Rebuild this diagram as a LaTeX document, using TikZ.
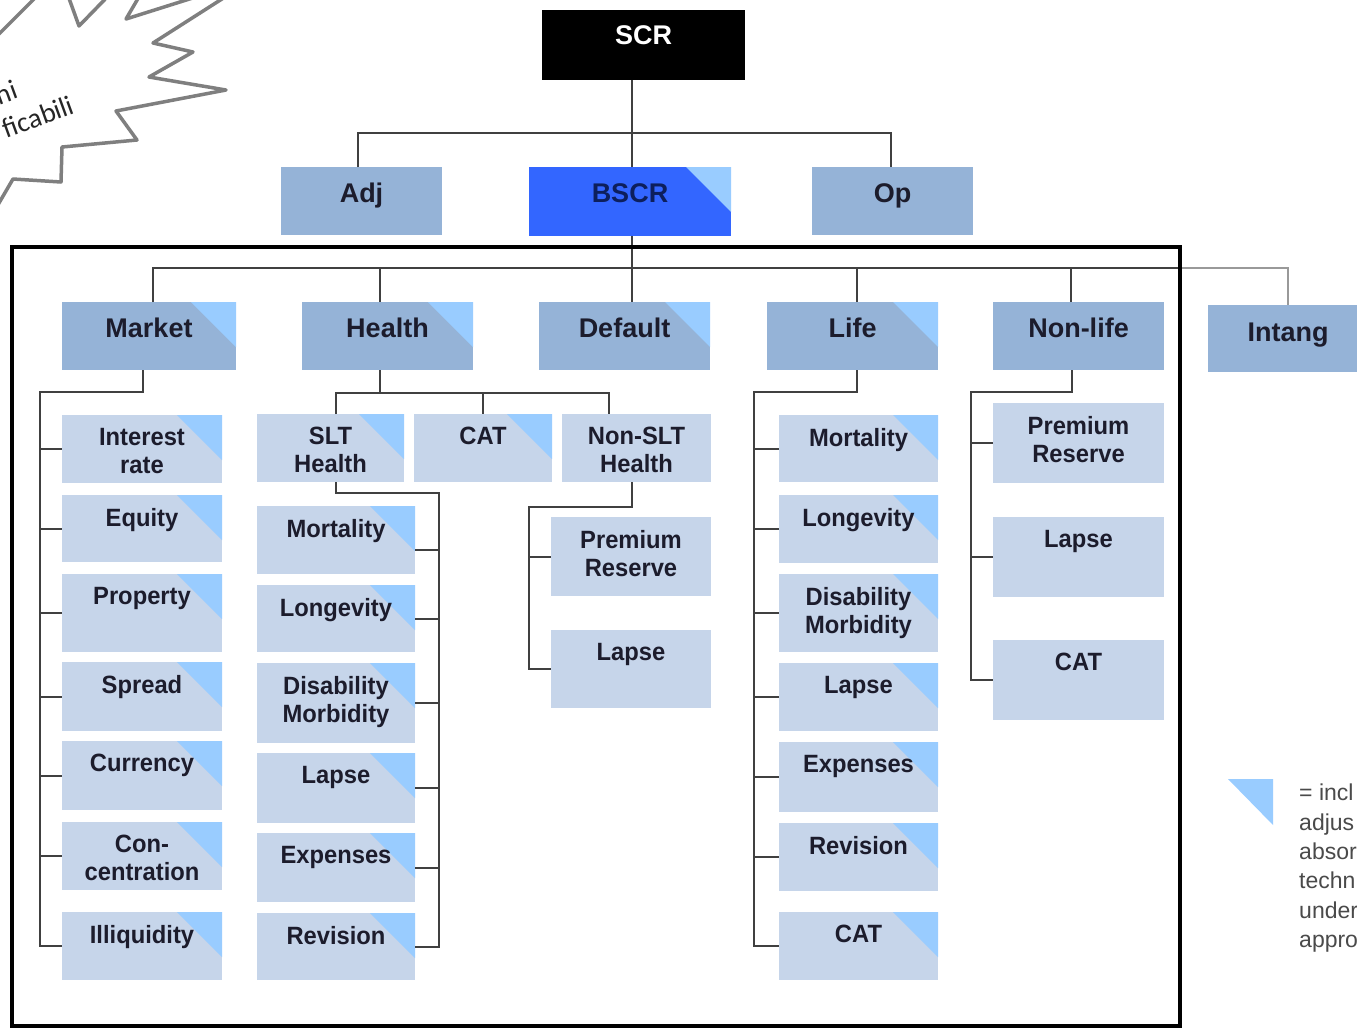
\documentclass[tikz,border=0pt]{standalone}
\usepackage{fontspec}
\setmainfont{Liberation Sans}
\newfontfamily\narrowfont[FakeStretch=0.95]{Liberation Sans}
\newfontfamily\burstfont{Carlito}
\usetikzlibrary{calc}
\definecolor{midblue}{HTML}{95B3D7}
\definecolor{lightbox}{HTML}{C6D5EA}
\definecolor{tricol}{HTML}{99CCFF}
\definecolor{bscrblue}{HTML}{3366FF}
\definecolor{txtcol}{HTML}{1C1C2C}
\definecolor{navytxt}{HTML}{0D1F5C}
\definecolor{linecol}{HTML}{404040}
\definecolor{burstcol}{HTML}{7F7F7F}
\definecolor{legtxt}{HTML}{4A4A4A}
\newcommand\tbox[8]{%
  \node[#2, minimum width={(#6-#4)*1pt}, minimum height={(#7-#5)*1pt}] (#1) at (#4,#5) {};
  \node[#3] (#1-t) at (#1.north) {#8};}
\begin{document}
\begin{tikzpicture}[x=1pt,y=-1pt,
  box/.style={anchor=north west, inner sep=0pt, outer sep=0pt, draw=none},
  midb/.style={box, fill=midblue},
  leafb/.style={box, fill=lightbox},
  tri/.style={path picture={\fill[tricol] ([xshift=-45pt]path picture bounding box.north east) -- (path picture bounding box.north east) -- ([yshift=-45pt]path picture bounding box.north east) -- cycle;}},
  bigtxt/.style={anchor=north, inner sep=0pt, align=center, font=\bfseries\fontsize{27}{30}\selectfont, text=txtcol, yshift=-16pt},
  toptxt/.style={bigtxt, yshift=1pt},
  leaftxt/.style={anchor=north, inner sep=0pt, align=center, font=\narrowfont\bfseries\fontsize{25}{28}\selectfont, text=txtcol, yshift=-13pt},
  conn/.style={draw=linecol, line width=2pt},
  burstline/.style={draw=burstcol, line width=3.5pt, line join=round},
  bursttxt/.style={font=\burstfont\fontsize{28}{33.6}\selectfont, text=black!85, inner sep=0pt, rotate=20, anchor=north east, align=right}
]
\useasboundingbox (0,0) rectangle (1357,1029);
\clip (0,0) rectangle (1357,1029);
\fill[white] (0,0) rectangle (1357,1029);

% starburst (cut off at the top-left corner)
\draw[burstline, fill=white] (-20,53) -- (45,-12) -- (66,-10) -- (79,26) -- (114,-10) -- (143,-10) -- (126,19) -- (218,-10) -- (236,-10) -- (153,43) -- (193,52) -- (149,77) -- (226,90) -- (116,111) -- (137,140) -- (62,147) -- (61,182) -- (13,179) -- (-15,227) -- (-60,227) -- (-60,53) -- cycle;
\node[bursttxt] (bt) at (58,63) {ni\hspace*{48pt}\\ficabili};

% top level
\tbox{scr}{box, fill=black}{toptxt, text=white}{542}{10}{745}{80}{SCR}
\tbox{adj}{midb}{bigtxt}{281}{167}{442}{235}{Adj}
\tbox{bscr}{box, fill=bscrblue, tri}{bigtxt, text=navytxt}{529}{167}{731}{236}{BSCR}
\tbox{op}{midb}{bigtxt}{812}{167}{973}{235}{Op}

% second level
\tbox{mkt}{midb, tri}{bigtxt}{62}{302}{236}{370}{Market}
\tbox{hlt}{midb, tri}{bigtxt}{302}{302}{473}{370}{Health}
\tbox{dft}{midb, tri}{bigtxt}{539}{302}{710}{370}{Default}
\tbox{life}{midb, tri}{bigtxt}{767}{302}{938}{370}{Life}
\tbox{nlife}{midb}{bigtxt}{993}{302}{1164}{370}{Non-life}
\tbox{intang}{midb}{bigtxt, yshift=-2pt}{1208}{305}{1368}{372}{Intang}

% market modules
\tbox{ir}{leafb, tri}{leaftxt}{62}{415}{222}{483}{Interest\\rate}
\tbox{eq}{leafb, tri}{leaftxt}{62}{495}{222}{562}{Equity}
\tbox{prop}{leafb, tri}{leaftxt}{62}{574}{222}{652}{Property}
\tbox{spr}{leafb, tri}{leaftxt}{62}{662}{222}{731}{Spread}
\tbox{cur}{leafb, tri}{leaftxt}{62}{741}{222}{810}{Currency}
\tbox{con}{leafb, tri}{leaftxt}{62}{822}{222}{890}{Con-\\centration}
\tbox{ill}{leafb, tri}{leaftxt}{62}{912}{222}{980}{Illiquidity}

% health modules
\tbox{slt}{leafb, tri}{leaftxt}{257}{414}{404}{482}{SLT\\Health}
\tbox{hcat}{leafb, tri}{leaftxt}{414}{414}{552}{482}{CAT}
\tbox{nslt}{leafb}{leaftxt}{562}{414}{711}{482}{Non-SLT\\Health}
\tbox{hmort}{leafb, tri}{leaftxt}{257}{506}{415}{574}{Mortality}
\tbox{hlong}{leafb, tri}{leaftxt}{257}{585}{415}{652}{Longevity}
\tbox{hdis}{leafb, tri}{leaftxt}{257}{663}{415}{743}{Disability\\Morbidity}
\tbox{hlapse}{leafb, tri}{leaftxt}{257}{753}{415}{823}{Lapse}
\tbox{hexp}{leafb, tri}{leaftxt}{257}{833}{415}{902}{Expenses}
\tbox{hrev}{leafb, tri}{leaftxt}{257}{913}{415}{980}{Revision}
\tbox{nprem}{leafb}{leaftxt}{551}{517}{711}{596}{Premium\\Reserve}
\tbox{nlapse}{leafb}{leaftxt}{551}{630}{711}{708}{Lapse}

% life modules
\tbox{lmort}{leafb, tri}{leaftxt}{779}{415}{938}{482}{Mortality}
\tbox{llong}{leafb, tri}{leaftxt}{779}{495}{938}{563}{Longevity}
\tbox{ldis}{leafb, tri}{leaftxt}{779}{574}{938}{652}{Disability\\Morbidity}
\tbox{llapse}{leafb, tri}{leaftxt}{779}{663}{938}{731}{Lapse}
\tbox{lexp}{leafb, tri}{leaftxt}{779}{742}{938}{812}{Expenses}
\tbox{lrev}{leafb, tri}{leaftxt}{779}{823}{938}{891}{Revision}
\tbox{lcat}{leafb, tri}{leaftxt}{779}{912}{938}{980}{CAT}

% non-life modules
\tbox{qprem}{leafb}{leaftxt}{993}{403}{1164}{483}{Premium\\Reserve}
\tbox{qlapse}{leafb}{leaftxt}{993}{517}{1164}{597}{Lapse}
\tbox{qcat}{leafb}{leaftxt}{993}{640}{1164}{720}{CAT}

% connectors: SCR level
\coordinate (t1) at (632,133);
\coordinate (adjx) at (358,133);
\coordinate (opx) at (891,133);
\draw[conn] (t1 |- scr.south) -- (t1) -- (t1 |- bscr.north);
\draw[conn] (adjx |- adj.north) -- (adjx) -- (opx) -- (opx |- op.north);

% connectors: BSCR level
\coordinate (b2) at (632,268);
\coordinate (bL) at (153,268);
\coordinate (bF) at (1181,268);
\coordinate (bR) at (1288,268);
\coordinate (hx) at (380,268);
\coordinate (lx) at (857,268);
\coordinate (nx) at (1071,268);
\draw[conn] (b2 |- bscr.south) -- (b2) -- (b2 |- dft.north);
\draw[conn] (bL |- mkt.north) -- (bL) -- (bF);
\draw[conn, draw=black!40] (bF) -- (bR) -- (bR |- intang.north);
\draw[conn] (hx) -- (hx |- hlt.north);
\draw[conn] (lx) -- (lx |- life.north);
\draw[conn] (nx) -- (nx |- nlife.north);

% market tree
\coordinate (m1) at (143,392);
\coordinate (m2) at (40,392);
\draw[conn] (m1 |- mkt.south) -- (m1) -- (m2) |- (ill.west);
\foreach \c in {ir,eq,prop,spr,cur,con} \draw[conn] (m2) |- (\c.west);

% health tree
\coordinate (h1) at (380,393);
\coordinate (hL) at (336,393);
\coordinate (hC) at (483,393);
\coordinate (hR) at (609,393);
\draw[conn] (h1 |- hlt.south) -- (h1);
\draw[conn] (hL |- slt.north) -- (hL) -- (hR) -- (hR |- nslt.north);
\draw[conn] (hC) -- (hC |- hcat.north);
\coordinate (s1) at (336,493);
\coordinate (s2) at (439,493);
\draw[conn] (s1 |- slt.south) -- (s1) -- (s2) |- (hrev.east);
\draw[conn] (s2) |- ([yshift=-10pt]hmort.east);
\foreach \c in {hlong,hdis,hlapse,hexp} \draw[conn] (s2) |- (\c.east);
\coordinate (n1) at (632,507);
\coordinate (n2) at (529,507);
\draw[conn] (n1 |- nslt.south) -- (n1) -- (n2) |- (nlapse.west);
\draw[conn] (n2) |- (nprem.west);

% life tree
\coordinate (l1) at (857,392);
\coordinate (l2) at (754,392);
\draw[conn] (l1 |- life.south) -- (l1) -- (l2) |- (lcat.west);
\foreach \c in {lmort,llong,ldis,llapse,lexp,lrev} \draw[conn] (l2) |- (\c.west);

% non-life tree
\coordinate (q1) at (1072,392);
\coordinate (q2) at (971,392);
\draw[conn] (q1 |- nlife.south) -- (q1) -- (q2) |- (qcat.west);
\foreach \c in {qprem,qlapse} \draw[conn] (q2) |- (\c.west);

% frame
\draw[line width=4.5pt, black] (12,247) rectangle (1180,1026);

% legend
\fill[tricol] (1228,779) -- (1273,779) -- (1273,825) -- cycle;
\node[anchor=north west, inner sep=0pt, align=left, font=\fontsize{23}{29.3}\selectfont, text=legtxt] (leg) at (1299,784) {= incl\\adjus\\absor\\techn\\under\\appro};
\end{tikzpicture}
\end{document}
